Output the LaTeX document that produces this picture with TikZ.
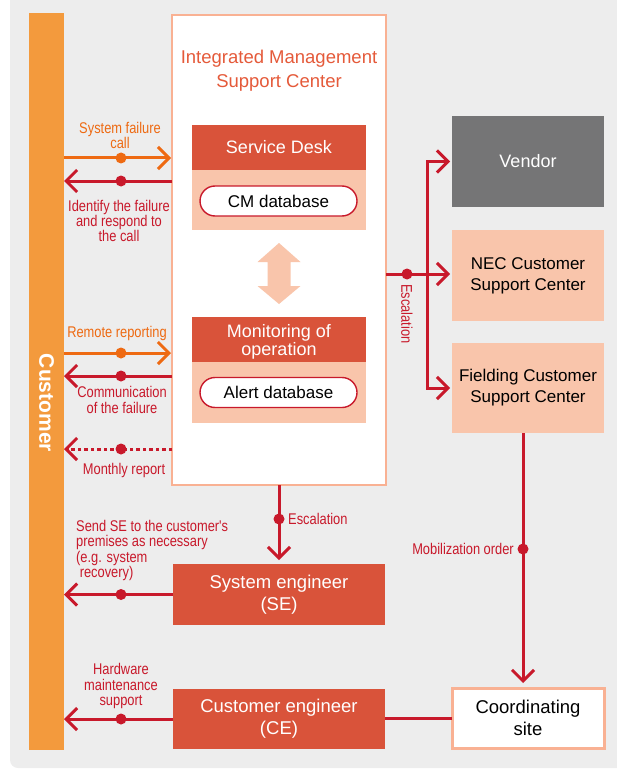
\documentclass[tikz,border=0pt]{standalone}
\usepackage{fontspec}
\setmainfont{Liberation Sans}
\newfontfamily\condfont{Liberation Sans}[FakeStretch=0.83]
\usetikzlibrary{arrows.meta,calc}
\definecolor{bggray}{HTML}{EDEDED}
\definecolor{custorange}{HTML}{F39A3D}
\definecolor{boxborder}{HTML}{F9B193}
\definecolor{darkhead}{HTML}{D9533A}
\definecolor{lightbody}{HTML}{F9C5AB}
\definecolor{linered}{HTML}{C8192B}
\definecolor{lineorange}{HTML}{EE6A12}
\definecolor{titlecol}{HTML}{E55A3A}
\definecolor{vendorgray}{HTML}{757576}
\tikzset{
  box/.style={rectangle, inner sep=0pt, outer sep=0pt, anchor=north west, align=center},
  headbox/.style={box, fill=darkhead, text=white, font=\fontsize{18}{18}\selectfont},
  bodybox/.style={box, fill=lightbody},
  pill/.style={rectangle, rounded corners=15pt, fill=white, draw=linered, line width=1.4pt, minimum width=157pt, minimum height=30pt, inner sep=0pt, font=\fontsize{17}{17}\selectfont},
  lbl/.style={font=\condfont\fontsize{15.5}{15.3}\selectfont, align=center, inner sep=0pt},
  redlbl/.style={lbl, text=linered},
  orglbl/.style={lbl, text=lineorange},
  conn/.style={line width=3pt, -{Straight Barb[length=11pt,width=22pt,line width=3pt]}},
  redconn/.style={conn, draw=linered},
  orgconn/.style={conn, draw=lineorange},
  reddot/.style={circle, fill=linered, minimum size=11pt, inner sep=0pt},
  orgdot/.style={circle, fill=lineorange, minimum size=11pt, inner sep=0pt},
}
\begin{document}
\begin{tikzpicture}[x=1pt, y=-1pt]
\useasboundingbox (0,0) rectangle (617,770);
\fill[bggray, rounded corners=8pt] (10,-20) rectangle (640,768);

% Customer bar
\node[box, fill=custorange, minimum width=35pt, minimum height=737pt] (custbar) at (29,13) {};
\node[rotate=-90, text=white, font=\bfseries\fontsize{21}{21}\selectfont] (custlbl) at (46.5,403) {Customer};

% Integrated Management Support Center
\node[box, fill=white, draw=boxborder, line width=2.5pt, minimum width=214pt, minimum height=470pt] (imsc) at (172,15) {};
\node[text=titlecol, align=center, font=\fontsize{18.5}{24}\selectfont] (title) at (279,71) {Integrated Management\\Support Center};

\node[headbox, minimum width=174pt, minimum height=45pt] (sdhead) at (192,125) {Service Desk};
\node[bodybox, minimum width=174pt, minimum height=60pt] (sdbody) at (192,170) {};
\node[pill] (cmdb) at (278.5,201) {CM database};

\fill[lightbody] (279,243) -- (300.5,262) -- (290.5,262) -- (290.5,286) -- (300.5,286) -- (279,304) -- (257.5,286) -- (267.5,286) -- (267.5,262) -- (257.5,262) -- cycle;

\node[headbox, minimum width=174pt, minimum height=45pt] (monhead) at (192,317) {};
\node[text=white, align=center, font=\fontsize{18}{18}\selectfont, inner sep=0pt] (montext) at (279,341.5) {Monitoring of\\operation};
\node[bodybox, minimum width=174pt, minimum height=61pt] (monbody) at (192,362) {};
\node[pill] (alertdb) at (278.5,392.5) {Alert database};

% Right side boxes
\node[box, fill=vendorgray, text=white, minimum width=152pt, minimum height=91pt, font=\fontsize{18}{18}\selectfont] (vendor) at (452,116) {Vendor};
\node[box, fill=lightbody, minimum width=152pt, minimum height=91pt, font=\fontsize{17}{21}\selectfont] (nec) at (452,230) {NEC Customer\\Support Center};
\node[box, fill=lightbody, minimum width=152pt, minimum height=90pt, font=\fontsize{17}{21}\selectfont] (field) at (452,343) {Fielding Customer\\Support Center};

% Bottom boxes
\node[headbox, minimum width=212pt, minimum height=61pt, font=\fontsize{18.5}{22}\selectfont] (se) at (173,564) {System engineer\\(SE)};
\node[headbox, minimum width=212pt, minimum height=60pt, font=\fontsize{18.5}{22}\selectfont] (ce) at (173,689) {Customer engineer\\(CE)};
\node[box, fill=white, draw=boxborder, line width=3pt, minimum width=152pt, minimum height=60pt, font=\fontsize{18.5}{22}\selectfont] (coord) at (452,688) {Coordinating\\site};

% Left connectors
\draw[orgconn] (custbar.east |- 0,158) -- ([xshift=-1pt]imsc.west |- 0,158);
\node[orgdot] (d1) at (121,158) {};
\node[orglbl] (l1) at (120,135.5) {System failure\\call};

\draw[redconn] (imsc.west |- 0,181) -- (custbar.east |- 0,181);
\node[reddot] (d2) at (121,181) {};
\node[redlbl] (l2) at (119,221) {Identify the failure\\and respond to\\the call};

\draw[orgconn] (custbar.east |- 0,353) -- ([xshift=-1pt]imsc.west |- 0,353);
\node[orgdot] (d3) at (121,353) {};
\node[orglbl] (l3) at (117,333) {Remote reporting};

\draw[redconn] (imsc.west |- 0,376) -- (custbar.east |- 0,376);
\node[reddot] (d4) at (121,376) {};
\node[redlbl] (l4) at (122,400) {Communication\\of the failure};

\draw[redconn, dash pattern=on 3.5pt off 3pt] (imsc.west |- 0,449) -- (custbar.east |- 0,449);
\node[reddot] (d5) at (121,449) {};
\node[redlbl] (l5) at (124,470) {Monthly report};

% Escalation to the right
\coordinate (bus) at (427,274);
\draw[redconn, shorten >=2pt] (imsc.east |- bus) -- (nec.west |- bus);
\draw[redconn, shorten >=2pt] (bus) |- (vendor.west);
\draw[redconn, shorten >=2pt] (bus) |- (field.west);
\node[reddot] (d6) at (407,274) {};
\node[redlbl, rotate=-90, anchor=west] (l6) at (407,284) {Escalation};

% Escalation down
\draw[redconn, shorten >=4pt] (imsc.south) -- (se.north);
\node[reddot] (d7) at (279,519) {};
\node[redlbl, anchor=west] (l7) at (288,519) {Escalation};

\draw[redconn] (se.west) -- (custbar.east |- se.west);
\node[reddot] (d8) at (121,594.5) {};
\node[redlbl, align=left, anchor=west] (l8) at (76,550.5) {Send SE to the customer's\\premises as necessary\\(e.g. system\\\ recovery)};

% Mobilization
\draw[redconn, shorten >=5pt] ([xshift=-5pt]field.south) -- ([xshift=-5pt]coord.north);
\node[reddot] (d9) at (523,549) {};
\node[redlbl, anchor=east] (l9) at (514,549) {Mobilization order};

% Coordinating to CE
\draw[line width=3pt, linered] (coord.west) -- (ce.east |- coord.west);
\draw[redconn] (ce.west) -- (custbar.east |- ce.west);
\node[reddot] (d10) at (121,719) {};
\node[redlbl] (l10) at (121,686) {Hardware\\maintenance\\support};
\end{tikzpicture}
\end{document}
